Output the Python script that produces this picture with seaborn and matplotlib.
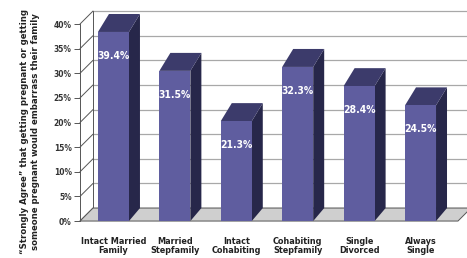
import matplotlib
matplotlib.use("Agg")
import matplotlib.pyplot as plt
from matplotlib.patches import Polygon
import seaborn as sns
import pandas as pd

# datos del grafico
categorias = ["Intact Married\nFamily", "Married\nStepfamily", "Intact\nCohabiting",
              "Cohabiting\nStepfamily", "Single\nDivorced", "Always\nSingle"]
valores = [39.4, 31.5, 21.3, 32.3, 28.4, 24.5]
ticks = [0, 5, 10, 15, 20, 25, 30, 35, 40]
ylabel = "\u201cStrongly Agree\u201d that getting pregnant or getting\nsomeone pregnant would embarrass their family"

# efecto 3d (en unidades de datos)
WALL_DX, WALL_DY = 0.212, 2.64
BAR_DX, BAR_DY = 0.179, 3.65
X0, X1 = -0.545, 5.757
ANCHO = 0.505

FRENTE = "#5f5d9f"
LADO = "#27274a"
TECHO = "#3c3b6b"

sns.set_theme(style="white")
fuente = ["Liberation Sans Narrow", "DejaVu Sans"]
plt.rcParams["font.family"] = fuente
plt.rcParams["font.stretch"] = "condensed"

df = pd.DataFrame({"cat": categorias, "val": valores})
df["frente"] = df["val"] - (BAR_DY - WALL_DY)

fig = plt.figure(figsize=(4.67, 2.58), dpi=100)
ax = fig.add_axes([80 / 467, 0.1337, 387 / 467, 0.8495])

sns.barplot(data=df, x="cat", y="frente", color=FRENTE, width=ANCHO, saturation=1,
            linewidth=0, ax=ax, zorder=3)
barras = list(ax.containers[0])

# pared de fondo y suelo
for t in ticks:
    ax.plot([X0 + WALL_DX, X1 + 0.3], [t + WALL_DY] * 2, color="#a8a8a8", lw=0.9, zorder=1, clip_on=False)
    ax.plot([X0, X0 + WALL_DX], [t, t + WALL_DY], color="#555555", lw=0.7, zorder=1, clip_on=False)
ax.plot([X0, X0], [0, 40], color="#555555", lw=0.7, zorder=1, clip_on=False)
ax.plot([X0 + WALL_DX] * 2, [WALL_DY, 40 + WALL_DY], color="#555555", lw=0.7, zorder=1, clip_on=False)
suelo = Polygon([(X0, 0), (5.61, 0), (5.61 + WALL_DX, WALL_DY), (X0 + WALL_DX, WALL_DY)],
                closed=True, facecolor="#cfcfcf", edgecolor="#555555", lw=0.7, zorder=1.5, clip_on=False)
ax.add_patch(suelo)

for p, v in zip(barras, valores):
    xl = p.get_x()
    xr = xl + p.get_width()
    ft = p.get_height()
    lado = Polygon([(xr, 0), (xr, ft), (xr + BAR_DX, ft + BAR_DY), (xr + BAR_DX, WALL_DY)],
                   closed=True, facecolor=LADO, edgecolor="none", zorder=2.8)
    techo = Polygon([(xl, ft), (xr, ft), (xr + BAR_DX, ft + BAR_DY), (xl + BAR_DX, ft + BAR_DY)],
                    closed=True, facecolor=TECHO, edgecolor="none", zorder=2.8)
    ax.add_patch(lado)
    ax.add_patch(techo)
    ax.text(xl + p.get_width() / 2, ft - 4.8, f"{v}%", ha="center", va="center",
            color="white", fontsize=7.5, fontweight="bold", family=fuente, zorder=4)

ax.set_xlim(X0, X1)
ax.set_ylim(-0.5, 44)
for s in ax.spines.values():
    s.set_visible(False)
ax.set_yticks(ticks)
ax.set_yticklabels([f"{t}%" for t in ticks], fontsize=6, fontweight="bold", color="#333333")
ax.tick_params(axis="y", left=True, length=4, width=0.7, color="#555555", pad=2)
ax.tick_params(axis="x", bottom=False, pad=4)
ax.set_xticklabels(categorias, fontsize=6.5, fontweight="bold", color="#222222", linespacing=1.0)
ax.set_xlabel("")
ax.set_ylabel("")

fig.text(30 / 467, 0.49, ylabel, rotation=90, ha="center", va="center", fontsize=6.8,
         fontweight="bold", color="#222222", family=fuente, linespacing=1.2)

fig.savefig("out.png", dpi=100)
